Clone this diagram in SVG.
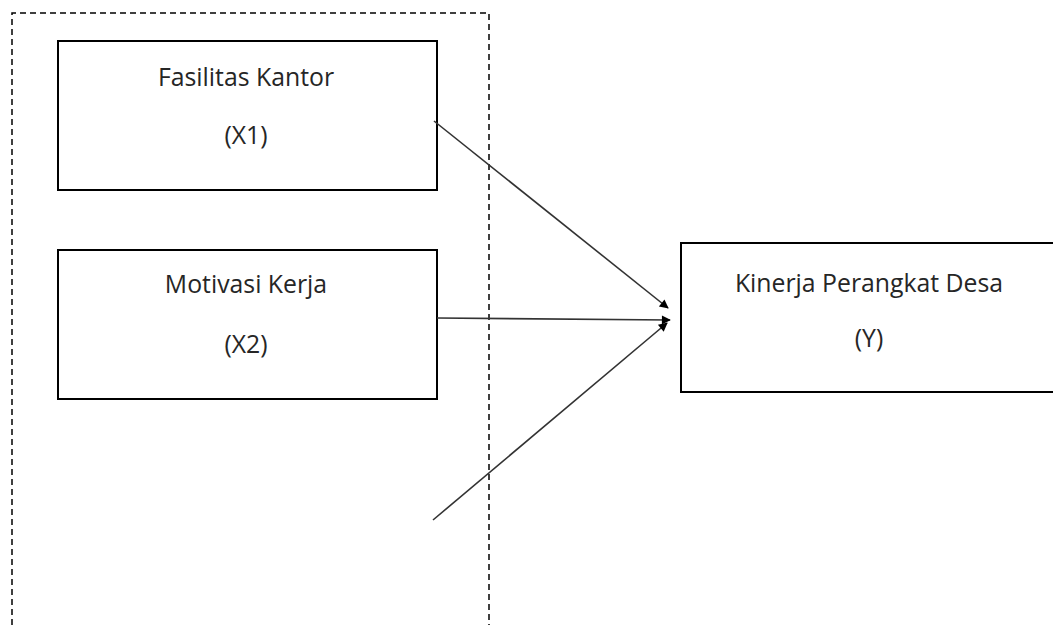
<svg xmlns="http://www.w3.org/2000/svg" width="1053" height="625" viewBox="0 0 1053 625">
<style>
.box{fill:#fff;stroke:#000;stroke-width:2}
.lbl{font-family:"Open Sans","Liberation Sans",sans-serif;font-size:24.8px;fill:#262626;text-anchor:middle}
.con{stroke:#333;stroke-width:1.6;fill:none}
.frame{fill:none;stroke:#000;stroke-width:1.5;stroke-dasharray:6,4}
</style>
<defs>
<marker id="ah" viewBox="0 0 10 10" refX="9" refY="5" markerWidth="11" markerHeight="9" orient="auto" markerUnits="userSpaceOnUse">
<path d="M0,0 L10,5 L0,10 z" fill="#000"/>
</marker>
</defs>
<rect width="1053" height="625" fill="#fff"/>
<path class="frame" d="M12,625 V13 H489 V625"/>
<g id="x1">
<rect class="box" x="58" y="41" width="379" height="149"/>
<text class="lbl" x="246" y="86">Fasilitas Kantor</text>
<text class="lbl" x="246" y="144">(X1)</text>
</g>
<g id="x2">
<rect class="box" x="58" y="250" width="379" height="149"/>
<text class="lbl" x="246" y="293">Motivasi Kerja</text>
<text class="lbl" x="246" y="353">(X2)</text>
</g>
<g id="y">
<rect class="box" x="681" y="243" width="380" height="149"/>
<text class="lbl" x="869" y="292">Kinerja Perangkat Desa</text>
<text class="lbl" x="869" y="347">(Y)</text>
</g>
<g id="connectors">
<line class="con" x1="434" y1="121" x2="668" y2="308" marker-end="url(#ah)"/>
<line class="con" x1="437" y1="318" x2="670" y2="320" marker-end="url(#ah)"/>
<line class="con" x1="433" y1="520" x2="667" y2="323" marker-end="url(#ah)"/>
</g>
</svg>
